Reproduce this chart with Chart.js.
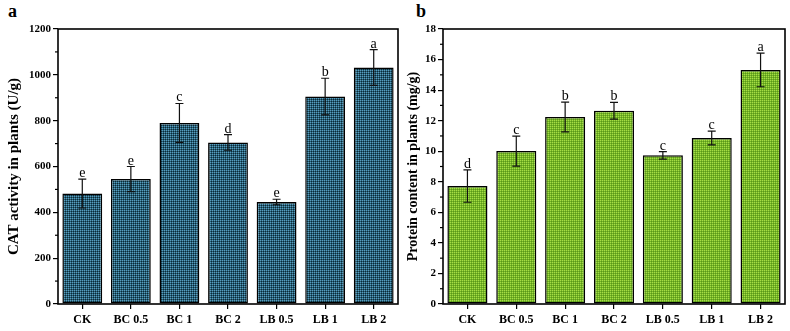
<!DOCTYPE html>
<html><head><meta charset="utf-8">
<script src="https://cdn.jsdelivr.net/npm/chart.js@4.4.0/dist/chart.umd.min.js"></script>
<style>
html,body{margin:0;padding:0;background:#fff;width:790px;height:331px;overflow:hidden;}
.wrap{position:absolute;top:0;height:331px;}
.lbl{position:absolute;font-family:"Liberation Serif",serif;font-weight:bold;font-size:18px;color:#000;}
</style></head>
<body>
<div class="lbl" style="left:8px;top:1px;">a</div>
<div class="lbl" style="left:416px;top:1px;">b</div>
<div class="wrap" style="left:0;width:400px;"><canvas id="c1" width="400" height="331"></canvas></div>
<div class="wrap" style="left:400px;width:390px;"><canvas id="c2" width="390" height="331"></canvas></div>
<script>
const categories = ['CK','BC 0.5','BC 1','BC 2','LB 0.5','LB 1','LB 2'];
const catValues = [482, 545, 790, 705, 445, 905, 1032];
const catErrors = [63, 55, 85, 34, 12, 80, 78];
const catLetters = ['e','e','c','d','e','b','a'];
const proteinValues = [7.72, 10.01, 12.24, 12.65, 9.73, 10.87, 15.32];
const proteinErrors = [1.06, 0.98, 0.98, 0.55, 0.25, 0.45, 1.10];
const proteinLetters = ['d','c','b','b','c','c','a'];

const FONT = '"Liberation Serif", "Times New Roman", serif';

function makePattern(cols){
  const c = document.createElement('canvas'); c.width = 2; c.height = 2;
  const x = c.getContext('2d');
  x.fillStyle = cols[0]; x.fillRect(0,0,1,1);
  x.fillStyle = cols[1]; x.fillRect(1,0,1,1);
  x.fillStyle = cols[2]; x.fillRect(0,1,1,1);
  x.fillStyle = cols[3]; x.fillRect(1,1,1,1);
  return x.createPattern(c,'repeat');
}

const extras = {
  id:'extras',
  afterDatasetsDraw(chart, args, opts){
    const ctx = chart.ctx;
    const ys = chart.scales.y;
    const meta = chart.getDatasetMeta(0);
    ctx.save();
    ctx.strokeStyle = '#111'; ctx.lineWidth = 1.2;
    opts.values.forEach((v,i)=>{
      const x = meta.data[i].x;
      const yT = ys.getPixelForValue(v + opts.errors[i]);
      const yB = ys.getPixelForValue(v - opts.errors[i]);
      ctx.beginPath();
      ctx.moveTo(x, yT); ctx.lineTo(x, yB);
      ctx.moveTo(x-4, yT); ctx.lineTo(x+4, yT);
      ctx.moveTo(x-4, yB); ctx.lineTo(x+4, yB);
      ctx.stroke();
      ctx.fillStyle = '#000';
      ctx.font = '14px ' + FONT;
      ctx.textAlign = 'center'; ctx.textBaseline = 'alphabetic';
      ctx.fillText(opts.letters[i], x, yT - 2);
    });
    ctx.restore();
  },
  afterDraw(chart, args, opts){
    const ctx = chart.ctx, ca = chart.chartArea;
    const ys = chart.scales.y;
    ctx.save();
    ctx.strokeStyle = '#000'; ctx.lineWidth = 1.6;
    ctx.strokeRect(ca.left, ca.top, ca.right-ca.left, ca.bottom-ca.top);
    ctx.lineWidth = 1.2;
    const step = opts.minor;
    for (let v = ys.min + step; v < ys.max; v += 2*step){
      const y = ys.getPixelForValue(v);
      ctx.beginPath(); ctx.moveTo(ca.left-3, y); ctx.lineTo(ca.left, y); ctx.stroke();
    }
    ctx.restore();
  }
};

function build(id, values, errors, letters, ymax, ystep, title, titleSize, pattern, yWidth, padRight){
  return new Chart(document.getElementById(id), {
    type:'bar',
    data:{ labels: categories, datasets:[{ data: values, backgroundColor: pattern, borderColor:'#000', borderWidth:1.5, barPercentage:0.82, categoryPercentage:1.0, borderSkipped:false }]},
    options:{
      responsive:false, animation:false,
      layout:{ padding:{ top:29, right:padRight, bottom:0, left:0 } },
      plugins:{ legend:{display:false}, tooltip:{enabled:false},
        extras:{ values, errors, letters, minor: ystep/2 } },
      scales:{
        x:{ grid:{ display:true, drawOnChartArea:false, offset:false, tickLength:5, color:'#000', lineWidth:1.2 },
            border:{ display:false },
            ticks:{ color:'#000', font:{ family:FONT, weight:'bold', size:12 }, padding:4, maxRotation:0 },
            afterFit(s){ s.height = 27; } },
        y:{ min:0, max:ymax, grid:{ display:true, drawOnChartArea:false, tickLength:5, color:'#000', lineWidth:1.2 },
            border:{ display:false },
            ticks:{ stepSize: ystep, color:'#000', font:{ family:FONT, weight:'bold', size:11 }, padding:2,
                    callback:(v)=>String(v) },
            title:{ display:true, text:title, color:'#000', font:{ family:FONT, weight:'bold', size:titleSize }, padding:{top:5,bottom:2} },
            afterFit(s){ s.width = yWidth; } }
      }
    },
    plugins:[extras]
  });
}

build('c1', catValues, catErrors, catLetters, 1200, 200, 'CAT activity in plants (U/g)', 15,
  makePattern(['#5a9cbc','#266078','#266078','#0f2833']), 58, 2);
build('c2', proteinValues, proteinErrors, proteinLetters, 18, 2, 'Protein content in plants (mg/g)', 14,
  makePattern(['#a6dc46','#74b526','#74b526','#5a961a']), 43, 5);
</script>
</body></html>
